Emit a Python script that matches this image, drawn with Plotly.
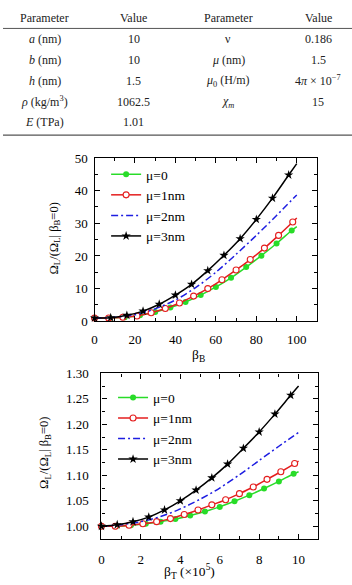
import plotly.graph_objects as go

# ---------------- table data ----------------
tbl_header = ["Parameter", "Value", "Parameter", "Value"]
tbl_param1 = ["<i>a</i> (nm)", "<i>b</i> (nm)", "<i>h</i> (nm)", "<i>ρ</i> (kg/m<sup>3</sup>)", "<i>E</i> (TPa)"]
tbl_value1 = ["10", "10", "1.5", "1062.5", "1.01"]
tbl_param2 = ["ν", "<i>μ</i> (nm)", "<i>μ</i><sub>0</sub> (H/m)", "<i>χ<sub>m</sub></i>", ""]
tbl_value2 = ["0.186", "1.5", "4<i>π</i> × 10<sup>−7</sup>", "15", ""]

# ---------------- chart 1 (β_B) ----------------
series_names = ["μ=0", "μ=1nm", "μ=2nm", "μ=3nm"]

c1_green_x = [0, 7.5, 15, 22.5, 30, 37.5, 45, 52.5, 60, 67.5, 75, 82.5, 90, 97.5]
c1_green_y = [1.0, 1.0, 1.2, 1.8, 2.8, 4.2, 5.9, 8.0, 10.5, 13.3, 16.6, 20.1, 23.8, 27.8]
c1_green_end = (100, 29.0)

c1_red_x = [0, 7, 14, 21, 28, 35, 42, 49, 56, 63, 70, 77, 84, 91, 98]
c1_red_y = [1.0, 1.0, 1.2, 1.6, 2.6, 3.9, 5.6, 7.7, 10.0, 12.7, 15.7, 18.9, 22.4, 26.3, 30.4]
c1_red_end = (100, 31.6)

c1_blue_x = [0, 10, 20, 30, 40, 50, 60, 70, 80, 90, 100]
c1_blue_y = [1.0, 1.2, 2.0, 3.8, 6.5, 10.3, 15.0, 20.5, 26.3, 32.4, 38.7]

c1_black_x = [0, 8, 16, 24, 32, 40, 48, 56, 64, 72, 80, 88, 96]
c1_black_y = [1.0, 1.1, 1.8, 3.1, 5.2, 8.0, 11.3, 15.5, 20.2, 25.3, 31.2, 37.7, 44.8]
c1_black_end = (100, 48.3)

# ---------------- chart 2 (β_T) ----------------
c2_green_x = [0, 0.75, 1.5, 2.25, 3.0, 3.75, 4.5, 5.25, 6.0, 6.75, 7.5, 8.25, 9.0, 9.75]
c2_green_y = [1.000, 1.000, 1.002, 1.005, 1.009, 1.014, 1.021, 1.029, 1.038, 1.049, 1.061, 1.074, 1.088, 1.103]
c2_green_end = (10, 1.107)

c2_red_x = [0, 0.7, 1.4, 2.1, 2.8, 3.5, 4.2, 4.9, 5.6, 6.3, 7.0, 7.7, 8.4, 9.1, 9.8]
c2_red_y = [1.000, 1.000, 1.002, 1.005, 1.009, 1.015, 1.023, 1.032, 1.042, 1.052, 1.064, 1.077, 1.092, 1.107, 1.123]
c2_red_end = (10, 1.128)

c2_blue_x = [0, 1, 2, 3, 4, 5, 6, 7, 8, 9, 10]
c2_blue_y = [1.000, 1.003, 1.009, 1.019, 1.034, 1.053, 1.075, 1.101, 1.129, 1.157, 1.184]

c2_black_x = [0, 0.8, 1.6, 2.4, 3.2, 4.0, 4.8, 5.6, 6.4, 7.2, 8.0, 8.8, 9.6]
c2_black_y = [1.000, 1.003, 1.009, 1.018, 1.032, 1.050, 1.071, 1.095, 1.122, 1.153, 1.185, 1.220, 1.257]
c2_black_end = (10, 1.275)

# ---------------- styles ----------------
GREEN = "rgb(40,220,40)"
RED = "rgb(228,30,30)"
BLUE = "rgb(30,30,225)"
BLACK = "black"
FONT = "Liberation Serif, Times New Roman, Times, serif"
W, H = 352, 585

fig = go.Figure()


def add_series(xs, ys, end, color, name, marker, axes, legend, dash="solid"):
    xa, ya = axes
    lx = list(xs) + ([end[0]] if end else [])
    ly = list(ys) + ([end[1]] if end else [])
    fig.add_trace(go.Scatter(x=lx, y=ly, mode="lines", line=dict(color=color, width=1.5, dash=dash, shape="spline", smoothing=0.8),
                             xaxis=xa, yaxis=ya, showlegend=False, hoverinfo="skip"))
    if marker is not None:
        fig.add_trace(go.Scatter(x=xs, y=ys, mode="markers", marker=marker, xaxis=xa, yaxis=ya,
                                 showlegend=False, cliponaxis=False))
    # legend proxy
    fig.add_trace(go.Scatter(x=[None], y=[None], mode="lines+markers" if marker is not None else "lines",
                             line=dict(color=color, width=1.5, dash=dash), marker=marker,
                             name=name, xaxis=xa, yaxis=ya, legend=legend))


m_green = dict(symbol="circle", size=6, color=GREEN, line=dict(width=0))
m_red = dict(symbol="circle", size=6, color="white", line=dict(color=RED, width=1.1))
m_black = dict(symbol="star", size=7, color=BLACK, line=dict(width=0))
DASHDOT = "7px,3px,2px,3px"

for axes, leg, data in [
    (("x", "y"), "legend", [(c1_green_x, c1_green_y, c1_green_end), (c1_red_x, c1_red_y, c1_red_end),
                            (c1_blue_x, c1_blue_y, None), (c1_black_x, c1_black_y, c1_black_end)]),
    (("x2", "y2"), "legend2", [(c2_green_x, c2_green_y, c2_green_end), (c2_red_x, c2_red_y, c2_red_end),
                               (c2_blue_x, c2_blue_y, None), (c2_black_x, c2_black_y, c2_black_end)]),
]:
    add_series(*data[0], GREEN, series_names[0], m_green, axes, leg)
    add_series(*data[1], RED, series_names[1], m_red, axes, leg)
    add_series(*data[2], BLUE, series_names[2], None, axes, leg, dash=DASHDOT)
    add_series(*data[3], BLACK, series_names[3], m_black, axes, leg)


def px_x(p):
    return p / W


def px_y(p):
    return 1 - p / H


axis_common = dict(showline=True, linecolor="black", linewidth=1.3, mirror="allticks", ticks="inside",
                   ticklen=5, tickwidth=1.3, tickcolor="black", showgrid=False, zeroline=False,
                   tickfont=dict(family=FONT, size=13, color="black"))

fig.update_layout(
    width=W, height=H, margin=dict(l=0, r=0, t=0, b=0),
    paper_bgcolor="white", plot_bgcolor="white",
    font=dict(family=FONT, size=13, color="black"),
    xaxis=dict(domain=[px_x(92.3), px_x(316.7)], anchor="y", range=[0, 110], dtick=20, tick0=0,
               ticklabelstandoff=6, **axis_common),
    yaxis=dict(domain=[px_y(322.5), px_y(155)], anchor="x", range=[0, 50], dtick=10, tick0=0,
               ticklabelstandoff=3, **axis_common),
    xaxis2=dict(domain=[px_x(99.3), px_x(318)], anchor="y2", range=[0, 11], dtick=2, tick0=0,
                ticklabelstandoff=8, **axis_common),
    yaxis2=dict(domain=[px_y(546), px_y(376)], anchor="x2", range=[0.975, 1.30], dtick=0.05, tick0=1.0,
                tickformat=".2f", ticklabelstandoff=9, **axis_common),
    legend=dict(x=px_x(104), y=px_y(156), xanchor="left", yanchor="top", bgcolor="rgba(0,0,0,0)",
                font=dict(family=FONT, size=13.5, color="black"), tracegroupgap=0, borderwidth=0),
    legend2=dict(x=px_x(111), y=px_y(385), xanchor="left", yanchor="top", bgcolor="rgba(0,0,0,0)",
                 font=dict(family=FONT, size=13.5, color="black"), tracegroupgap=0, borderwidth=0),
)
minor_style = dict(ticks="inside", ticklen=3, tickwidth=1.1, tickcolor="black", showgrid=False)
fig.layout.xaxis.minor = dict(dtick=10, **minor_style)
fig.layout.yaxis.minor = dict(dtick=5, **minor_style)
fig.layout.xaxis2.minor = dict(dtick=1, **minor_style)
fig.layout.yaxis2.minor = dict(dtick=0.025, **minor_style)

# axis titles as annotations
ytitle = "Ω<sub>L</sub>/(Ω<sub>L</sub>| β<sub>B</sub>=0)"
ann = [
    dict(text=ytitle, x=px_x(52), y=px_y(238), textangle=-90, font=dict(family=FONT, size=12.5, color="black")),
    dict(text="β<sub>B</sub>", x=px_x(197), y=px_y(358), font=dict(family=FONT, size=13.5, color="black")),
    dict(text=ytitle, x=px_x(43), y=px_y(458), textangle=-90, font=dict(family=FONT, size=12.5, color="black")),
    dict(text="β<sub>T</sub> (×10<sup>5</sup>)", x=px_x(188), y=px_y(579), font=dict(family=FONT, size=13.5, color="black")),
]

# table
col_x = [42, 132, 227, 318]
row_y = [33.3, 54.5, 75.8, 97.1, 118.4]
TFONT = dict(family=FONT, size=12, color="#222")
for cx, t in zip(col_x, tbl_header):
    ann.append(dict(text=t, x=px_x(cx), y=px_y(11.7), font=TFONT))
for col, vals in zip(col_x, [tbl_param1, tbl_value1, tbl_param2, tbl_value2]):
    for ry, t in zip(row_y, vals):
        if t:
            ann.append(dict(text=t, x=px_x(col), y=px_y(ry), font=TFONT))
for a in ann:
    a.update(xref="paper", yref="paper", showarrow=False, xanchor="center", yanchor="middle")
fig.update_layout(annotations=ann)

fig.update_layout(shapes=[
    dict(type="line", xref="paper", yref="paper", x0=0, x1=1, y0=px_y(22), y1=px_y(22),
         line=dict(color="#555", width=1)),
    dict(type="line", xref="paper", yref="paper", x0=0, x1=1, y0=px_y(131.5), y1=px_y(131.5),
         line=dict(color="#555", width=1.2)),
])

fig.write_html("out.html")
